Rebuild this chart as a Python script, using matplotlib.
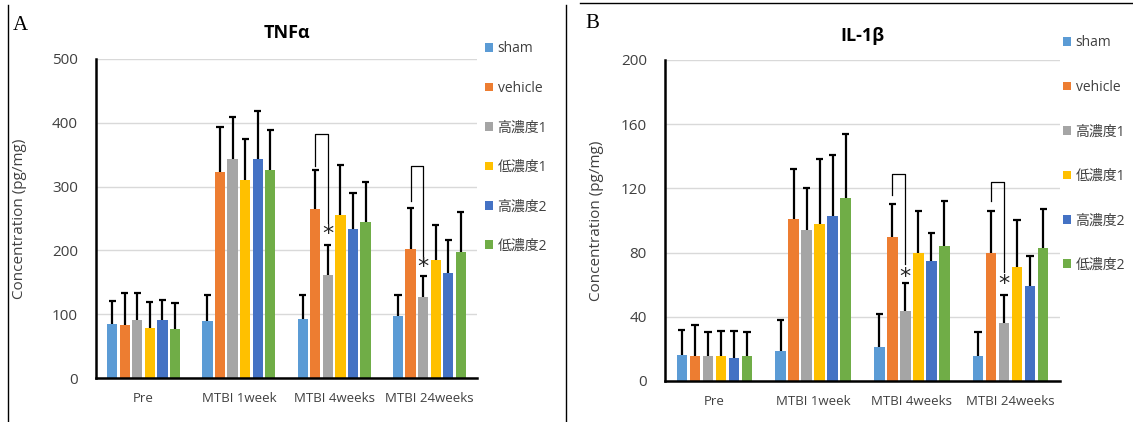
import matplotlib
matplotlib.use('Agg')
import matplotlib.pyplot as plt
import numpy as np
from matplotlib.patches import Patch
from matplotlib.lines import Line2D

plt.rcParams['font.family'] = ['Open Sans', 'Noto Sans CJK JP', 'DejaVu Sans']

categories = ['Pre', 'MTBI 1week', 'MTBI 4weeks', 'MTBI 24weeks']
groups = ['sham', 'vehicle', '高濃度1', '低濃度1', '高濃度2', '低濃度2']
colors = ['#5B9BD5', '#ED7D31', '#A5A5A5', '#FFC000', '#4472C4', '#70AD47']

# TNFa means and upper error tops, rows = groups, cols = categories
tnf_mean = [[85, 89, 93, 97],
            [83, 323, 265, 202],
            [91, 343, 161, 127],
            [79, 311, 255, 185],
            [91, 343, 234, 165],
            [77, 326, 245, 197]]
tnf_top = [[120, 130, 130, 130],
           [133, 394, 326, 266],
           [133, 409, 208, 160],
           [119, 375, 334, 240],
           [123, 419, 290, 217],
           [118, 389, 307, 260]]

# IL-1b
il_mean = [[16.4, 19, 21, 15.8],
           [15.4, 101, 90, 80],
           [15.8, 94, 43.5, 36],
           [15.4, 98, 80, 71],
           [14.1, 103, 75, 59],
           [15.4, 114, 84, 83]]
il_top = [[31.6, 38, 42, 30.6],
          [35, 132, 110, 106],
          [30.4, 120, 61.3, 53.4],
          [31, 138.5, 106, 100],
          [31, 140.5, 92, 78],
          [30.4, 153.6, 112, 107]]

# significance brackets: (category, left leg start, top, right leg end, star y)
tnf_sig = [(2, 333, 382, 243, 225), (3, 277, 332, 185, 174)]
il_sig = [(2, 116, 129, 73, 65), (3, 112, 124, 68, 60.5)]

W, H = 1133, 422
fig = plt.figure(figsize=(W / 100, H / 100), dpi=100)

step = 0.132
width = 0.107
cap = 0.075
x = np.arange(len(categories))
txt = '#404040'


def panel(rect, means, tops, ymax, ystep, title, sig, ylab_x, legend_xy, legend_sp, title_pad):
    ax = fig.add_axes(rect)
    for i, g in enumerate(groups):
        xs = x + (i - 2.5) * step
        m = np.array(means[i])
        t = np.array(tops[i])
        ax.bar(xs, m, width, color=colors[i], zorder=2)
        # upper-only error bars
        ax.vlines(xs, m, t, color='black', lw=1.6, zorder=3)
        ax.hlines(t, xs - cap / 2, xs + cap / 2, color='black', lw=1.6, zorder=3)
    for c, y0, ytop, y1, ystar in sig:
        xl = c + (1 - 2.5) * step
        xr = c + (2 - 2.5) * step
        ax.plot([xl, xl, xr, xr], [y0, ytop, ytop, y1], color='black', lw=0.9, zorder=4)
        ax.text(xr, ystar, '*', ha='center', va='center', fontsize=16,
                family='DejaVu Sans', color='#222222', zorder=4)
    ax.set_xlim(-0.5, 3.5)
    ax.set_ylim(0, ymax)
    ax.set_yticks(np.arange(0, ymax + 1, ystep))
    ax.set_xticks(x)
    ax.set_xticklabels(categories, fontsize=9.5, color=txt)
    ax.tick_params(axis='y', length=0, pad=13, labelsize=11, labelcolor=txt)
    ax.tick_params(axis='x', length=0, pad=10)
    ax.grid(axis='y', color='#D9D9D9', lw=1, zorder=0)
    ax.set_axisbelow(True)
    for s in ['top', 'right']:
        ax.spines[s].set_visible(False)
    for s in ['left', 'bottom']:
        ax.spines[s].set_linewidth(1.8)
        ax.spines[s].set_zorder(5)
    ax.set_title(title, fontsize=13, fontweight='bold', pad=title_pad, color='black')
    ax.set_ylabel('Concentration (pg/mg)', fontsize=11, color=txt)
    ax.yaxis.set_label_coords(ylab_x, 0.5)
    handles = [Patch(facecolor=c) for c in colors]
    fig.legend(handles, groups, loc='upper left',
               bbox_to_anchor=(legend_xy[0] / W, 1 - legend_xy[1] / H),
               frameon=False, fontsize=10, handlelength=0.6, handleheight=0.6,
               handletextpad=0.3, labelspacing=legend_sp, borderpad=0,
               borderaxespad=0, labelcolor=txt)
    return ax


panel([96 / W, 44 / H, 381 / W, 319 / H], tnf_mean, tnf_top, 500, 100, 'TNFα',
      tnf_sig, -0.181, (485, 41.5), 1.76, 15)
panel([665 / W, 41 / H, 395 / W, 321 / H], il_mean, il_top, 200, 40, 'IL-1β',
      il_sig, -0.154, (1063, 35.5), 2.12, 14)

fig.text(20 / W, 1 - 25 / H, 'A', family='Liberation Serif', fontsize=15,
         ha='center', va='center')
fig.text(592 / W, 1 - 23 / H, 'B', family='Liberation Serif', fontsize=15,
         ha='center', va='center')

# panel frame lines
fig.add_artist(Line2D([7.5 / W, 7.5 / W], [0, 1 - 5 / H], color='black', lw=1))
fig.add_artist(Line2D([566 / W, 566 / W], [0, 1 - 5 / H], color='black', lw=1))
fig.add_artist(Line2D([580 / W, 1], [1 - 3 / H, 1 - 3 / H], color='black', lw=1))

plt.savefig('out.png', dpi=100)
